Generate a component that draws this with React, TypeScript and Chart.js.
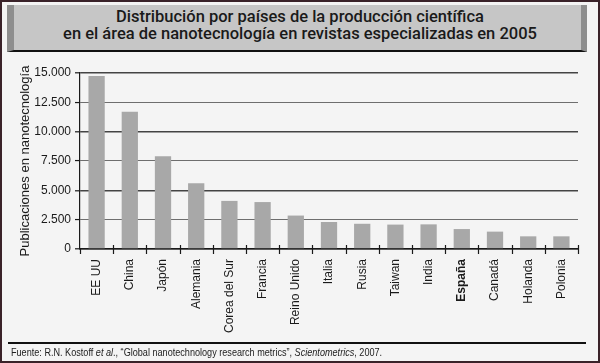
import React, { useEffect, useRef } from 'react';
import { Chart, registerables } from 'chart.js';

Chart.register(...registerables);

const categories = [
  'EE UU', 'China', 'Japón', 'Alemania', 'Corea del Sur', 'Francia', 'Reino Unido',
  'Italia', 'Rusia', 'Taiwan', 'India', 'España', 'Canadá', 'Holanda', 'Polonia',
];
const publications = [14750, 11700, 7900, 5600, 4100, 4000, 2850, 2300, 2150, 2080, 2100, 1700, 1480, 1080, 1080];
const yMin = 0;
const yMax = 15000;
const yStep = 2500;
const boldCategory = 'España';
const titleLines = [
  'Distribución por países de la producción científica',
  'en el área de nanotecnología en revistas especializadas en 2005',
];
const yAxisTitle = 'Publicaciones en nanotecnología';

const fmt = (v: number) => String(v).replace(/\B(?=(\d{3})+(?!\d))/g, '.');

const xTickPlugin = {
  id: 'xTickMarks',
  afterDatasetsDraw(chart: any) {
    const { ctx, chartArea } = chart;
    const n = categories.length;
    const w = (chartArea.right - chartArea.left) / n;
    const y = chartArea.bottom;
    ctx.save();
    ctx.strokeStyle = '#1a1a1a';
    ctx.lineWidth = 1.2;
    ctx.beginPath();
    for (let k = 0; k <= n; k++) {
      const px = Math.round(chartArea.left + k * w) + 0.5;
      ctx.moveTo(px, k === 0 ? y : y - 4);
      ctx.lineTo(px, y + 5);
    }
    ctx.stroke();
    ctx.restore();
  },
};

export default function App() {
  const ref = useRef<HTMLCanvasElement>(null);

  useEffect(() => {
    document.body.style.margin = '0';
    const chart = new Chart(ref.current as HTMLCanvasElement, {
      type: 'bar',
      data: {
        labels: categories,
        datasets: [
          {
            data: publications,
            backgroundColor: '#a8a8a8',
            borderWidth: 0,
            categoryPercentage: 1,
            barPercentage: 0.49,
          },
        ],
      },
      options: {
        animation: false,
        responsive: false,
        layout: { padding: { left: 0, top: 73, right: 22, bottom: 20 } },
        plugins: { legend: { display: false }, title: { display: false }, tooltip: { enabled: false } },
        scales: {
          x: {
            grid: { display: false, drawTicks: false },
            border: { display: true, color: '#1a1a1a', width: 1.5 },
            ticks: {
              minRotation: 90,
              maxRotation: 90,
              autoSkip: false,
              padding: 10,
              color: '#1a1a1a',
              font: (c: any) => ({
                family: 'Liberation Sans, Arial, sans-serif',
                size: 12,
                weight: categories[c.index] === boldCategory ? 'bold' : 'normal',
              }),
            },
            afterFit: (s: any) => { s.height = 94; },
          },
          y: {
            min: yMin,
            max: yMax,
            grid: {
              color: (c: any) => (c.tick && c.tick.value % 5000 === 0 ? '#444' : '#6e6e6e'),
              lineWidth: (c: any) => (c.tick && c.tick.value % 5000 === 0 ? 1.6 : 1.1),
              drawTicks: true,
              tickLength: 5,
              tickColor: '#1a1a1a',
              tickWidth: 1.2,
            },
            border: { display: true, color: '#1a1a1a', width: 1.2 },
            ticks: {
              stepSize: yStep,
              padding: 4,
              color: '#1a1a1a',
              font: { family: 'Liberation Sans, Arial, sans-serif', size: 12 },
              callback: (v: any) => fmt(Number(v)),
            },
            title: {
              display: true,
              text: yAxisTitle,
              color: '#1a1a1a',
              font: { family: 'Liberation Sans, Arial, sans-serif', size: 13 },
              padding: { top: 18, bottom: 0 },
            },
            afterFit: (s: any) => { s.width = 80; },
          },
        },
      },
      plugins: [xTickPlugin],
    });
    return () => chart.destroy();
  }, []);

  return (
    <div style={{ position: 'fixed', left: 0, top: 0, width: 600, height: 363, background: '#f4f4f4', overflow: 'hidden' }}>
      <div
        style={{
          position: 'absolute', left: 7, top: 5, width: 580, height: 47, boxSizing: 'border-box',
          background: '#c6c6c6', borderLeft: '7px solid #8e8e8e', borderRight: '6px solid #8e8e8e',
          borderBottom: '2px solid #111',
        }}
      />
      {titleLines.map((t, i) => (
        <div
          key={i}
          style={{
            position: 'absolute', left: 0, width: 600, top: 7 + i * 17, textAlign: 'center',
            fontFamily: 'Roboto, "Liberation Sans", Arial, sans-serif',
            fontSize: 16.5, lineHeight: '20px', color: '#1a1a1a', fontWeight: 500, whiteSpace: 'nowrap',
          }}
        >
          {t}
        </div>
      ))}
      <canvas ref={ref} width={600} height={363} style={{ position: 'absolute', left: 0, top: 0 }} />
      <div style={{ position: 'absolute', left: 8, top: 342, width: 578, height: 2, background: '#111' }} />
      <div
        style={{
          position: 'absolute', left: 11, top: 346, fontSize: 10, lineHeight: '13px', color: '#222',
          fontFamily: '"Liberation Sans", Arial, sans-serif', whiteSpace: 'nowrap',
          transform: 'scaleX(0.91)', transformOrigin: 'left center',
        }}
      >
        Fuente: R.N. Kostoff <i>et al</i>., “Global nanotechnology research metrics”, <i>Scientometrics</i>, 2007.
      </div>
      <div
        style={{
          position: 'absolute', left: 0, top: 0, width: 600, height: 363, boxSizing: 'border-box',
          border: '2px solid #3a2229', pointerEvents: 'none',
        }}
      />
    </div>
  );
}
